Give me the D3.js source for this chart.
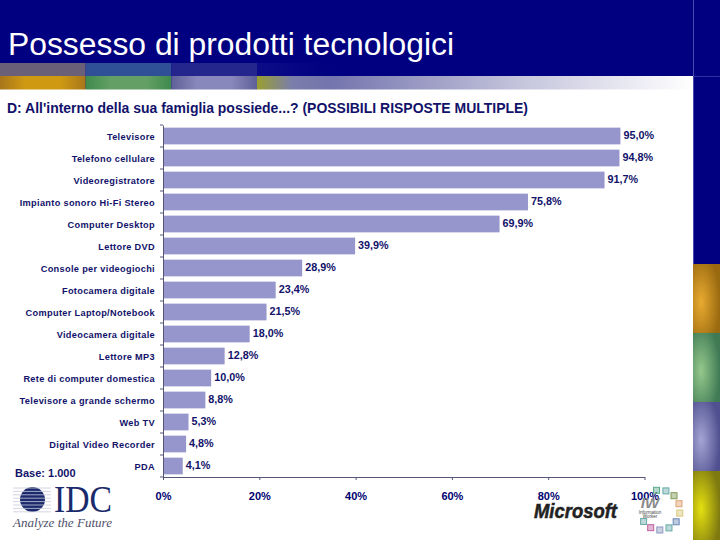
<!DOCTYPE html>
<html>
<head>
<meta charset="utf-8">
<script src="https://cdn.jsdelivr.net/npm/d3@7"></script>
<style>
  html, body { margin: 0; padding: 0; background: #000080; }
  svg { display: block; }
  text { font-family: "Liberation Sans", Arial, sans-serif; }
</style>
</head>
<body>
<div id="chart"></div>
<script>
const categories = ["Televisore", "Telefono cellulare", "Videoregistratore", "Impianto sonoro Hi-Fi Stereo",
  "Computer Desktop", "Lettore DVD", "Console per videogiochi", "Fotocamera digitale",
  "Computer Laptop/Notebook", "Videocamera digitale", "Lettore MP3", "Rete di computer domestica",
  "Televisore a grande schermo", "Web TV", "Digital Video Recorder", "PDA"];
const values = [95.0, 94.8, 91.7, 75.8, 69.9, 39.9, 28.9, 23.4, 21.5, 18.0, 12.8, 10.0, 8.8, 5.3, 4.8, 4.1];
const xTicks = [0, 20, 40, 60, 80, 100];

const title = "Possesso di prodotti tecnologici";
const question = "D: All'interno della sua famiglia possiede...? (POSSIBILI RISPOSTE MULTIPLE)";
const baseLabel = "Base: 1.000";

const topSwatches = ["#cf9a12", "#64a066", "#8888bc"];
const topEdges = ["#a8761a", "#3f8a4c", "#5f5f98"];
const dimSwatches = ["#6a6078", "#2f4f96", "#25258e"];
const sideLight = ["#e8aa30", "#96c88c", "#a4a4d4", "#e4e010"];
const sideDark = ["#9a6a10", "#3f7a55", "#505090", "#7f7a10"];
const ringColors = ["#5aa88a", "#66aaa8", "#7f9a55", "#e0a070", "#d8c878", "#6a88b8", "#66aaa8", "#8a9ac0", "#c060a0", "#6aa8a8"];

const width = 720, height = 540;
const navy = "#000080", ink = "#12126a", axisColor = "#55557a";

const svg = d3.select("#chart").append("svg")
  .attr("width", width)
  .attr("height", height);

const defs = svg.append("defs");

function stops(grad, list) {
  list.forEach(([offset, color]) => {
    grad.append("stop").attr("offset", offset).attr("stop-color", color);
  });
}

// fade of the strip under the title
stops(defs.append("linearGradient").attr("id", "strip-fade"),
  [["0%", "#9a9e30"], ["8%", "#7a7eaa"], ["17%", "#7474ae"], ["60%", "#c4c4dc"], ["100%", "#ffffff"]]);
stops(defs.append("linearGradient").attr("id", "dim-fade"),
  [["0%", "#0c0c88"], ["100%", navy]]);

topSwatches.forEach((c, i) => {
  stops(defs.append("linearGradient").attr("id", "top-" + i),
    [["0%", topEdges[i]], ["30%", c], ["70%", c], ["100%", topEdges[i]]]);
});
sideLight.forEach((c, i) => {
  stops(defs.append("radialGradient").attr("id", "side-" + i)
    .attr("cx", "30%").attr("cy", "55%").attr("r", "70%"),
    [["0%", c], ["100%", sideDark[i]]]);
});

// slide background
svg.append("rect").attr("width", width).attr("height", height).attr("fill", navy);
svg.append("rect").attr("x", 0).attr("y", 89).attr("width", 693).attr("height", 451).attr("fill", "#ffffff");
svg.append("rect").attr("x", 693).attr("y", 0).attr("width", 1).attr("height", 264).attr("fill", "#4a4ab0");
svg.append("rect").attr("x", 693).attr("y", 76).attr("width", 27).attr("height", 1).attr("fill", "#3030a0");

// coloured strip below the title
const stripX = d3.scaleBand().domain(d3.range(topSwatches.length)).range([0, 257]);
svg.append("rect").attr("x", 257).attr("y", 76).attr("width", 436).attr("height", 13.5).attr("fill", "url(#strip-fade)");
svg.append("g").selectAll("rect")
  .data(topSwatches)
  .join("rect")
  .attr("x", (d, i) => stripX(i))
  .attr("y", 76)
  .attr("width", stripX.bandwidth())
  .attr("height", 13.5)
  .attr("fill", (d, i) => `url(#top-${i})`);
svg.append("g").selectAll("rect")
  .data(dimSwatches)
  .join("rect")
  .attr("x", (d, i) => stripX(i))
  .attr("y", 63)
  .attr("width", stripX.bandwidth())
  .attr("height", 13)
  .attr("fill", d => d);
svg.append("rect").attr("x", 257).attr("y", 63).attr("width", 80).attr("height", 13).attr("fill", "url(#dim-fade)");

// swatches on the right edge
const sideY = d3.scaleBand().domain(d3.range(sideLight.length)).range([264, 540]);
svg.append("g").selectAll("rect")
  .data(sideLight)
  .join("rect")
  .attr("x", 693)
  .attr("y", (d, i) => sideY(i))
  .attr("width", 27)
  .attr("height", sideY.bandwidth())
  .attr("fill", (d, i) => `url(#side-${i})`);

// titles
svg.append("text").text(title)
  .attr("x", 8).attr("y", 55)
  .attr("font-size", 31.85).attr("fill", "#ffffff");
svg.append("text").text(question)
  .attr("x", 7).attr("y", 113)
  .attr("font-size", 13.97).attr("font-weight", "bold").attr("fill", ink);

// chart
const xScale = d3.scaleLinear().domain([0, 100]).range([163, 644.5]);
const yScale = d3.scaleBand().domain(categories).range([125, 477]).paddingInner(0.24).paddingOuter(0.12);

svg.append("g").selectAll("rect")
  .data(categories)
  .join("rect")
  .attr("x", xScale(0))
  .attr("y", d => yScale(d))
  .attr("width", (d, i) => xScale(values[i]) - xScale(0))
  .attr("height", yScale.bandwidth())
  .attr("fill", "#9696cc");

svg.append("g").selectAll("text")
  .data(categories)
  .join("text")
  .text((d, i) => values[i].toFixed(1).replace(".", ",") + "%")
  .attr("x", (d, i) => xScale(values[i]) + 3)
  .attr("y", d => yScale(d) + yScale.bandwidth() / 2 + 2.5)
  .attr("font-size", 10.8).attr("font-weight", "bold").attr("fill", ink);

const yAxis = svg.append("g")
  .attr("transform", `translate(${xScale(0)},1)`)
  .call(d3.axisLeft(yScale).tickSize(0).tickPadding(8));
yAxis.selectAll("text")
  .attr("font-size", 9.2).attr("font-weight", "bold").attr("letter-spacing", 0.33)
  .attr("fill", ink).style("font-family", '"Liberation Sans", Arial, sans-serif');
yAxis.select(".domain").attr("stroke", axisColor).attr("transform", "translate(0,-1)");

// tick marks sit between the categories
yAxis.selectAll(".sep")
  .data(d3.range(categories.length + 1))
  .join("line")
  .attr("class", "sep")
  .attr("x1", -3).attr("x2", 0)
  .attr("y1", i => 124 + i * yScale.step())
  .attr("y2", i => 124 + i * yScale.step())
  .attr("stroke", axisColor);

const xAxis = svg.append("g")
  .attr("transform", "translate(0,477)")
  .call(d3.axisBottom(xScale).tickValues(xTicks).tickFormat(d => d + "%").tickSizeOuter(0).tickSizeInner(3).tickPadding(12));
xAxis.selectAll("text")
  .attr("font-size", 11).attr("font-weight", "bold").attr("fill", "#000070")
  .style("font-family", '"Liberation Sans", Arial, sans-serif');
xAxis.selectAll("line").attr("stroke", axisColor);
xAxis.select(".domain").attr("stroke", axisColor);

svg.append("text").text(baseLabel)
  .attr("x", 15).attr("y", 477)
  .attr("font-size", 11).attr("font-weight", "bold").attr("fill", ink);

// IDC logo
const idc = svg.append("g");
idc.append("circle").attr("cx", 32.5).attr("cy", 499.5).attr("r", 12.5).attr("fill", "#1a2a6c");
idc.selectAll("line")
  .data(d3.range(8))
  .join("line")
  .attr("x1", 13).attr("x2", 51)
  .attr("y1", i => 488 + i * 3.4)
  .attr("y2", i => 488 + i * 3.4)
  .attr("stroke", "#c9cbdc").attr("stroke-width", 0.8);
idc.append("text").text("IDC")
  .attr("x", 54).attr("y", 512)
  .attr("font-size", 37).attr("textLength", 58).attr("lengthAdjust", "spacingAndGlyphs")
  .attr("fill", "#1a2a6c")
  .style("font-family", '"Liberation Serif", serif');
idc.append("text").text("Analyze the Future")
  .attr("x", 13).attr("y", 527)
  .attr("font-size", 12.5).attr("font-style", "italic")
  .attr("textLength", 99).attr("lengthAdjust", "spacingAndGlyphs").attr("fill", "#50506a")
  .style("font-family", '"Liberation Serif", serif');

// Microsoft logo
svg.append("text").text("Microsoft")
  .attr("x", 534).attr("y", 518)
  .attr("font-size", 19.5).attr("font-weight", "bold").attr("font-style", "italic")
  .attr("textLength", 83).attr("lengthAdjust", "spacingAndGlyphs")
  .attr("fill", "#222222").attr("stroke", "#222222").attr("stroke-width", 0.5);

// Information Worker badge
const ringAngle = d3.scaleLinear().domain([0, ringColors.length - 1]).range([-100, 145]);
const badge = svg.append("g").attr("transform", "translate(650,500)");
badge.selectAll("rect")
  .data(ringColors)
  .join("rect")
  .attr("x", (d, i) => 20 * Math.cos(ringAngle(i) * Math.PI / 180) + 10 - 3)
  .attr("y", (d, i) => 20 * Math.sin(ringAngle(i) * Math.PI / 180) + 10 - 3)
  .attr("width", 6).attr("height", 6)
  .attr("fill", d => d).attr("fill-opacity", 0.45)
  .attr("stroke", d => d);
badge.append("text").text("IW")
  .attr("x", 0).attr("y", 8)
  .attr("text-anchor", "middle")
  .attr("font-size", 15).attr("font-weight", "bold").attr("font-style", "italic").attr("fill", "#8a8a8a");
badge.append("text").text("Information")
  .attr("x", 0).attr("y", 13.5)
  .attr("text-anchor", "middle").attr("font-size", 4.5).attr("fill", "#444444");
badge.append("text").text("Worker")
  .attr("x", 0).attr("y", 18)
  .attr("text-anchor", "middle").attr("font-size", 4.5).attr("fill", "#444444");
</script>
</body>
</html>
